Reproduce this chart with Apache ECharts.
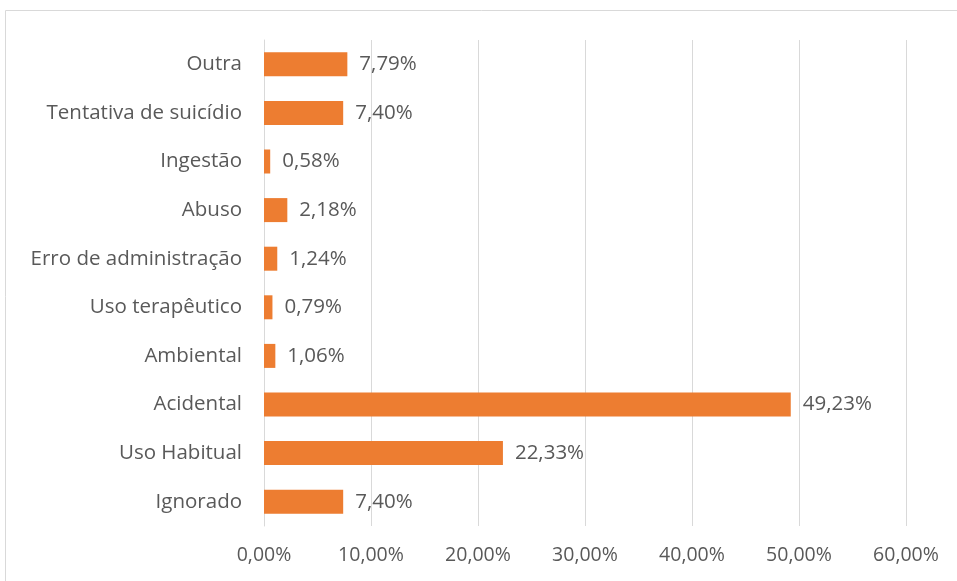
<!DOCTYPE html>
<html><head><meta charset="utf-8">
<script src="https://cdn.jsdelivr.net/npm/echarts@6/dist/echarts.min.js"></script>
<style>html,body{margin:0;padding:0;background:#fff}#c{width:957px;height:581px}</style>
</head><body><div id="c"></div>
<script>
const categories = ["Ignorado","Uso Habitual","Acidental","Ambiental","Uso terapêutico","Erro de administração","Abuso","Ingestão","Tentativa de suicídio","Outra"];
const values = [7.40,22.33,49.23,1.06,0.79,1.24,2.18,0.58,7.40,7.79];
const xTicks = [0,10,20,30,40,50,60];
const fmt = v => v.toFixed(2).replace('.', ',') + '%';
const FONT = 'Open Sans';
const chart = echarts.init(document.getElementById('c'));
chart.setOption({
  animation:false,
  graphic:[{type:'rect',shape:{x:5.5,y:10.5,width:960,height:580},style:{fill:'none',stroke:'#d9d9d9',lineWidth:1}}],
  grid:{left:264,right:51,top:40,bottom:55},
  xAxis:{type:'value',min:xTicks[0],max:xTicks[xTicks.length-1],interval:10,
    axisLine:{show:false},axisTick:{show:false},
    splitLine:{lineStyle:{color:'#d9d9d9',width:1}},
    axisLabel:{formatter:v=>fmt(v),color:'#595959',fontFamily:FONT,fontSize:19.5,margin:19}},
  yAxis:{type:'category',data:categories,
    axisLine:{show:true,lineStyle:{color:'#d9d9d9'}},axisTick:{show:false},
    axisLabel:{color:'#595959',fontFamily:FONT,fontSize:20.5,margin:22}},
  series:[{type:'bar',data:values,barWidth:24,
    itemStyle:{color:'#ED7D31'},
    label:{show:true,position:'right',distance:12,formatter:p=>fmt(p.value),color:'#595959',fontFamily:FONT,fontSize:20.5}}]
});
</script></body></html>
